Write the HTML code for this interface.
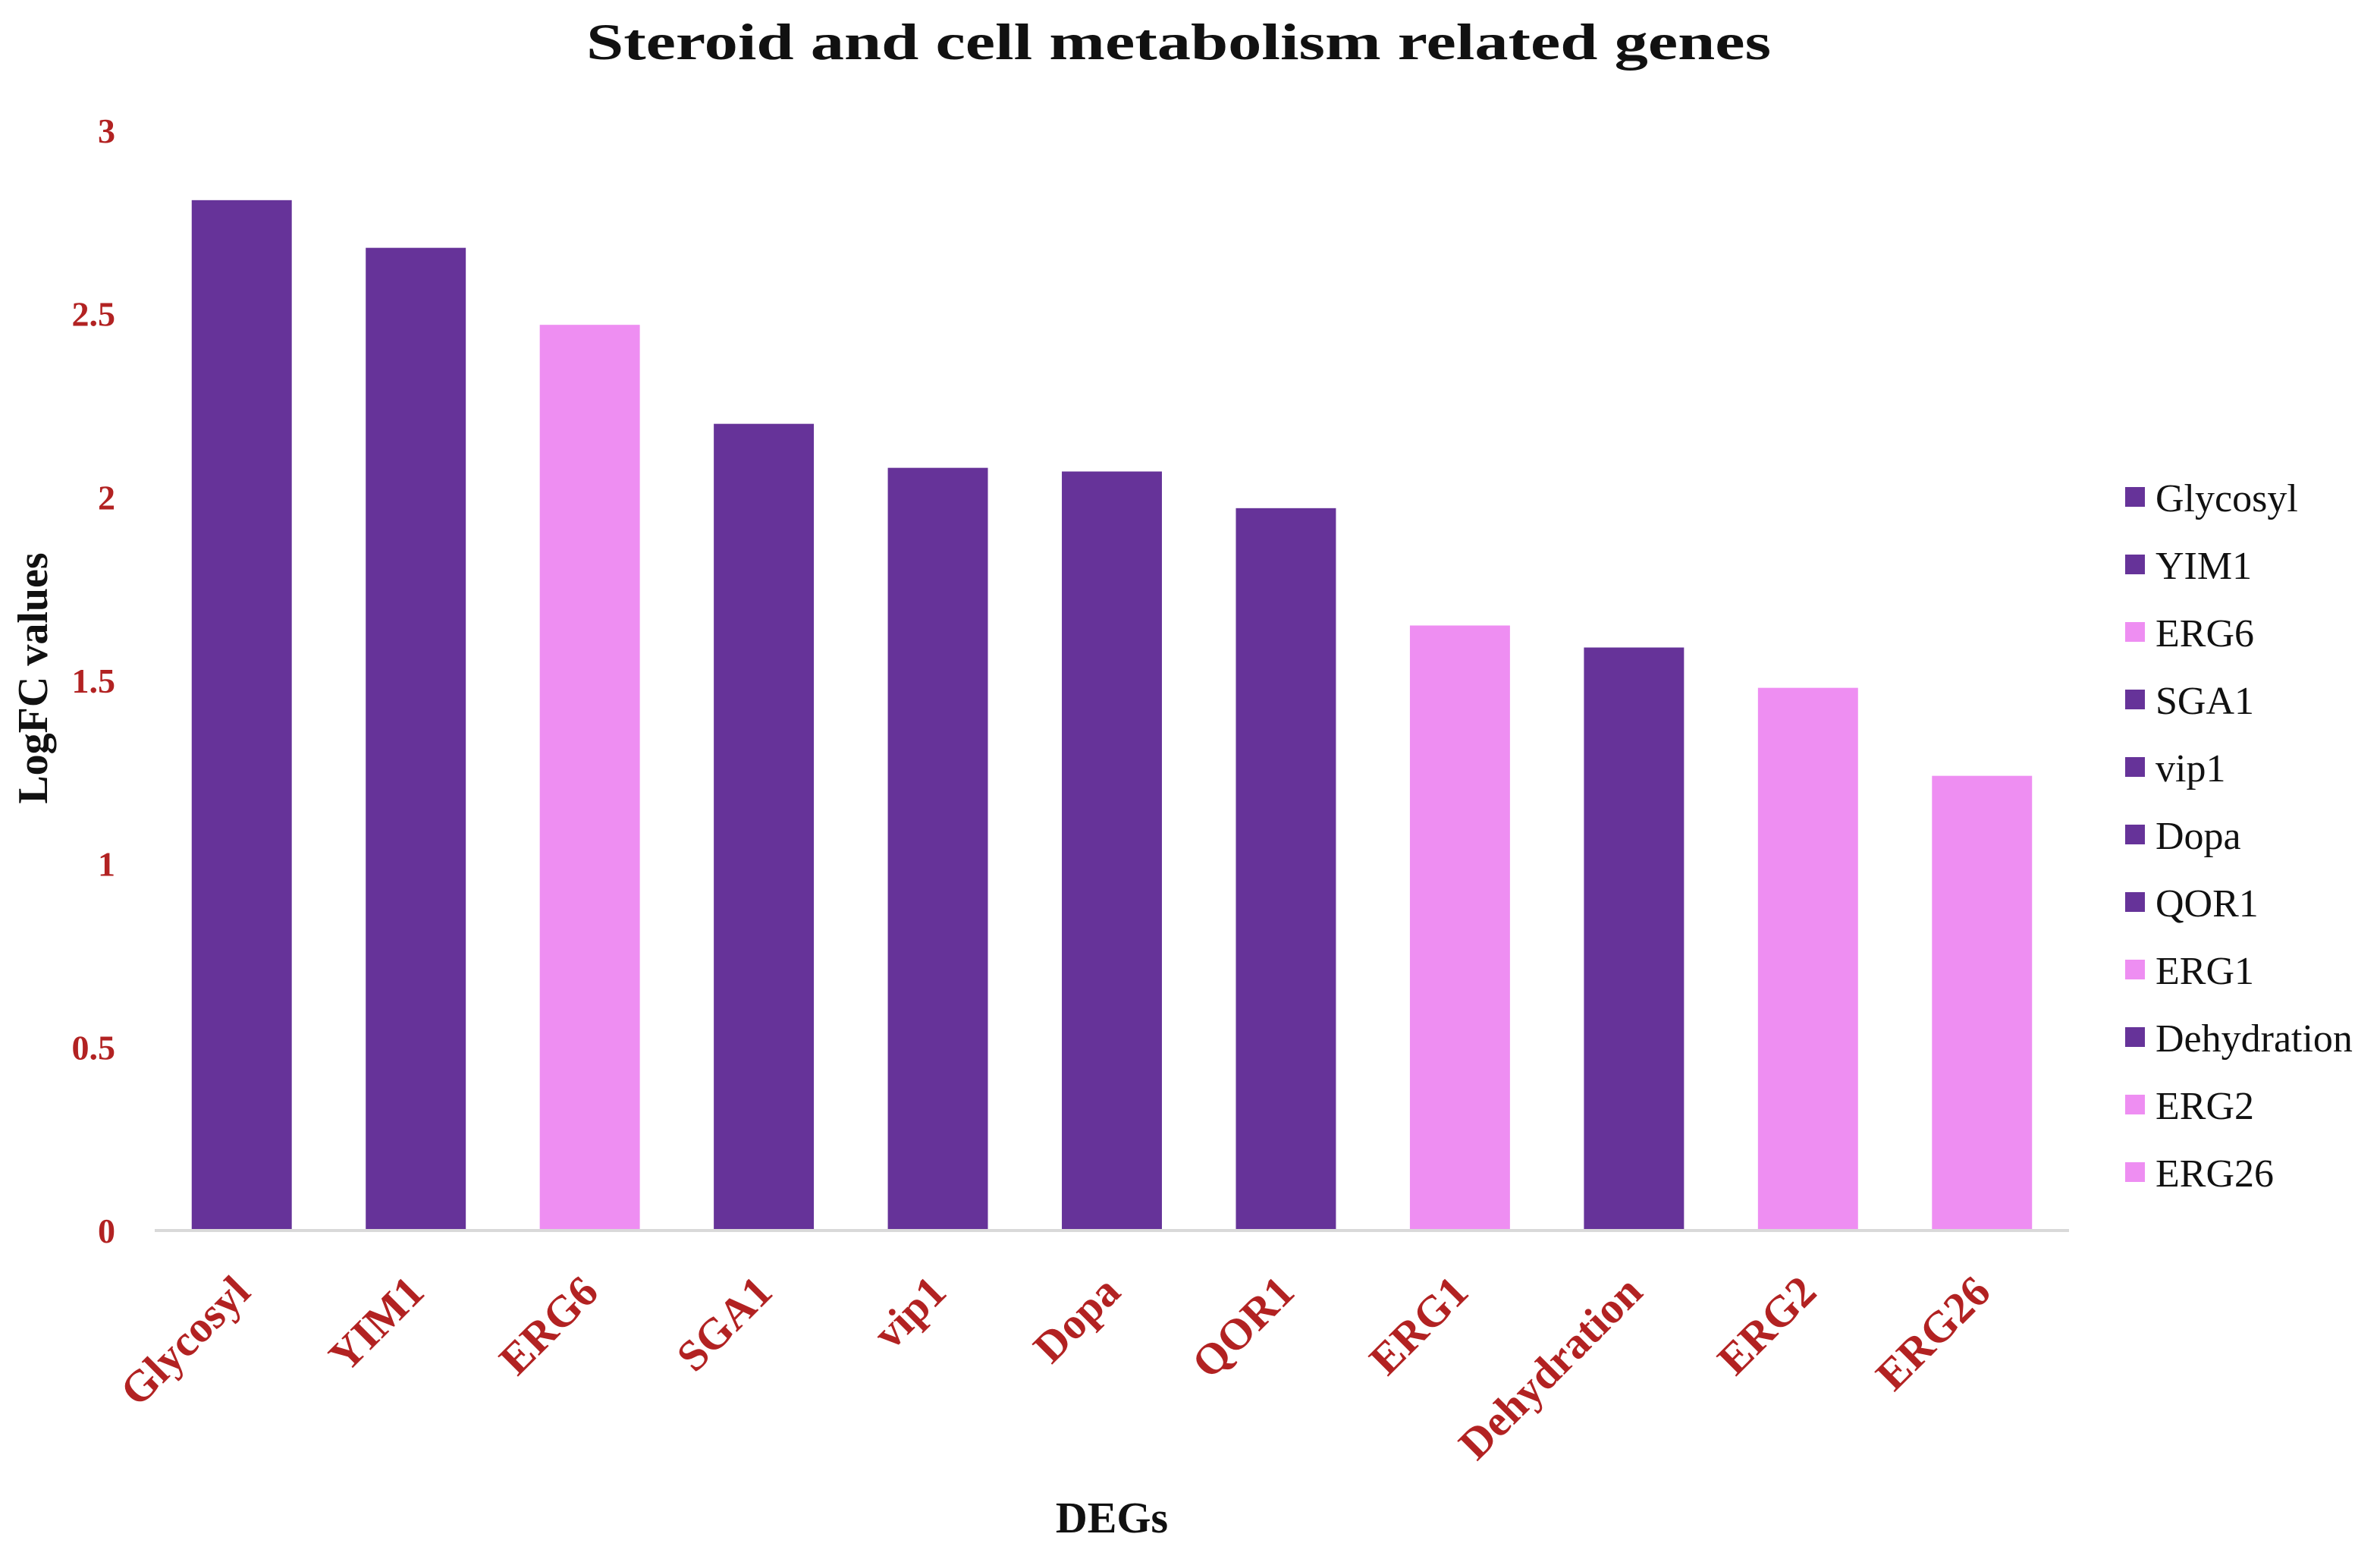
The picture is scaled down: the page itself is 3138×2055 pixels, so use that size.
<!DOCTYPE html>
<html><head><meta charset="utf-8">
<style>
html,body{margin:0;padding:0;background:#fff;}
svg{display:block;}
</style></head>
<body>
<svg id="chart" width="3138" height="2055" viewBox="0 0 3138 2055" xmlns="http://www.w3.org/2000/svg">
<rect x="0" y="0" width="3138" height="2055" fill="#ffffff"/>
<text x="1554" y="78" text-anchor="middle" font-family="Liberation Serif, serif" font-weight="bold" font-size="68" textLength="1562" lengthAdjust="spacingAndGlyphs" fill="#111">Steroid and cell metabolism related  genes</text>
<text transform="translate(62,894) rotate(-90)" text-anchor="middle" font-family="Liberation Serif, serif" font-weight="bold" font-size="56" fill="#111">LogFC values</text>
<text x="1466" y="2020" text-anchor="middle" font-family="Liberation Serif, serif" font-weight="bold" font-size="58" fill="#111">DEGs</text>
<g id="bars"></g>
<g id="yticks"></g>
<g id="xlabels"></g>
<g id="legend"></g>
<line x1="204" y1="1622" x2="2728" y2="1622" stroke="#d9d9d9" stroke-width="4"/>
</svg>
<script>
const categories = ["Glycosyl","YIM1","ERG6","SGA1","vip1","Dopa","QOR1","ERG1","Dehydration","ERG2","ERG26"];
const values = [2.81,2.68,2.47,2.20,2.08,2.07,1.97,1.65,1.59,1.48,1.24];
const groups = ["p","p","k","p","p","p","p","k","p","k","k"];
const yTicks = [0,0.5,1,1.5,2,2.5,3];
const yTickLabels = ["0","0.5","1","1.5","2","2.5","3"];

const NS = "http://www.w3.org/2000/svg";
const plotL = 204, plotR = 2728, y0 = 1622, yTop = 172, yMax = 3;
const band = (plotR - plotL) / categories.length;
const barW = band * 0.575;
const colors = {p:"#663399", k:"#ee8ef2"};
function yScale(v){ return y0 - (v / yMax) * (y0 - yTop); }
function xCenter(i){ return plotL + band * (i + 0.5); }

const gBars = document.getElementById('bars');
const gX = document.getElementById('xlabels');
categories.forEach((c, i) => {
  const r = document.createElementNS(NS, 'rect');
  
  
  const y = yScale(values[i]);
  r.setAttribute('x', xCenter(i) - barW / 2);
  r.setAttribute('y', y);
  r.setAttribute('width', barW);
  r.setAttribute('height', y0 - y);
  r.setAttribute('fill', colors[groups[i]]);
  gBars.appendChild(r);

  const t = document.createElementNS(NS, 'text');
  
  
  const cx = xCenter(i) + 14, cy = 1706;
  t.setAttribute('transform', 'translate(' + cx + ',' + cy + ') rotate(-45)');
  t.setAttribute('text-anchor', 'end');
  t.setAttribute('font-family', 'Liberation Serif, serif');
  t.setAttribute('font-weight', 'bold');
  t.setAttribute('font-size', '58');
  t.setAttribute('fill', '#b22222');
  t.textContent = c;
  gX.appendChild(t);
});

const gY = document.getElementById('yticks');
yTicks.forEach((v, i) => {
  const t = document.createElementNS(NS, 'text');
  
  
  t.setAttribute('x', 152);
  t.setAttribute('y', yScale(v) + 16);
  t.setAttribute('text-anchor', 'end');
  t.setAttribute('font-family', 'Liberation Serif, serif');
  t.setAttribute('font-weight', 'bold');
  t.setAttribute('font-size', '46');
  t.setAttribute('fill', '#b22222');
  t.textContent = yTickLabels[i];
  gY.appendChild(t);
});

const gL = document.getElementById('legend');
categories.forEach((c, i) => {
  const yy = 656 + i * 89;
  const s = document.createElementNS(NS, 'rect');
  
  
  s.setAttribute('x', 2802);
  s.setAttribute('y', yy - 14);
  s.setAttribute('width', 26);
  s.setAttribute('height', 26);
  s.setAttribute('fill', colors[groups[i]]);
  gL.appendChild(s);
  const t = document.createElementNS(NS, 'text');
  
  
  t.setAttribute('x', 2842);
  t.setAttribute('y', yy + 18);
  t.setAttribute('font-family', 'Liberation Serif, serif');
  t.setAttribute('font-size', '52');
  t.setAttribute('fill', '#111');
  t.textContent = c;
  gL.appendChild(t);
});
</script>
</body></html>
